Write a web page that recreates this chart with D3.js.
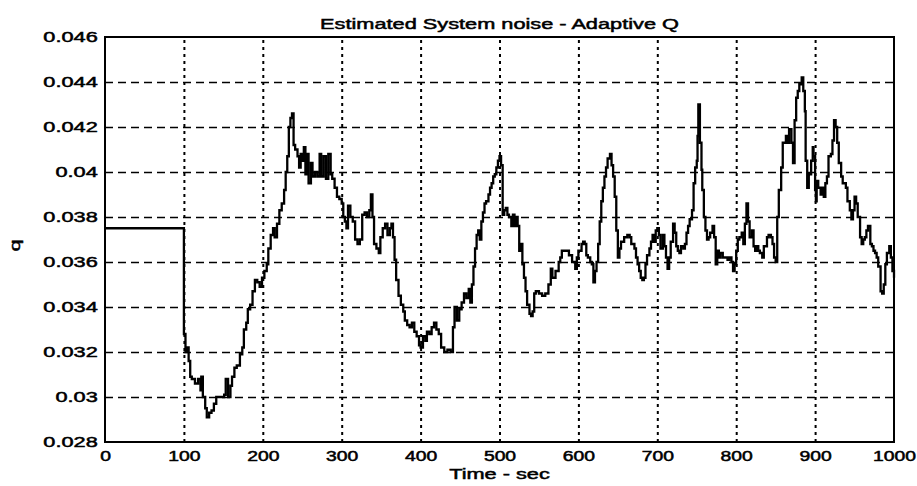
<!DOCTYPE html>
<html>
<head>
<meta charset="utf-8">
<script src="https://cdn.jsdelivr.net/npm/d3@7"></script>
<style>
  body { margin: 0; background: #fff; }
  svg { display: block; }
  text { font-family: "Liberation Sans", Arial, sans-serif; fill: #000; }
</style>
</head>
<body>
<svg id="chart" width="917" height="486"></svg>
<script>
// time (sec) and estimated q
const timeSec = [
  0, 100, 100, 102, 104, 106, 108, 110, 114, 118, 121, 122, 124, 127, 129, 132, 135, 138, 141, 146,
  151, 153, 156, 159, 161, 164, 167, 171, 174, 176, 179, 181, 184, 187, 190, 193, 196, 199, 202, 205,
  207, 210, 213, 215, 218, 221, 224, 227, 229, 231, 233, 235, 237, 239, 241, 244, 246, 248, 250, 252,
  254, 256, 258, 261, 263, 266, 269, 272, 274, 277, 280, 283, 286, 288, 291, 294, 297, 300, 302, 304,
  306, 308, 311, 314, 317, 320, 323, 326, 329, 332, 335, 337, 339, 341, 344, 347, 349, 352, 355, 358,
  361, 363, 365, 367, 369, 372, 375, 378, 380, 383, 386, 389, 392, 395, 398, 400, 403, 406, 408, 411,
  414, 417, 420, 423, 426, 430, 434, 438, 441, 443, 446, 449, 452, 455, 458, 461, 463, 465, 467, 469,
  471, 473, 475, 477, 479, 481, 483, 486, 488, 490, 492, 494, 496, 498, 500, 502, 504, 506, 508, 510,
  512, 515, 517, 519, 521, 523, 525, 527, 529, 531, 533, 535, 538, 540, 542, 544, 546, 550, 554, 558,
  562, 565, 567, 569, 571, 575, 577, 579, 583, 588, 592, 596, 598, 600, 604, 606, 608, 610, 612, 615,
  617, 619, 621, 623, 625, 627, 629, 631, 633, 635, 637, 640, 642, 644, 646, 648, 650, 652, 654, 658,
  662, 665, 667, 671, 673, 675, 677, 679, 681, 683, 685, 687, 690, 692, 694, 696, 698, 700, 702, 704,
  707, 709, 711, 713, 715, 717, 720, 722, 724, 726, 728, 730, 733, 735, 737, 739, 741, 744, 746, 748,
  750, 751, 752, 754, 756, 757, 759, 761, 763, 765, 767, 770, 772, 774, 776, 778, 780, 783, 785, 787,
  789, 791, 794, 796, 798, 800, 802, 804, 807, 809, 811, 813, 815, 817, 820, 822, 824, 826, 828, 830,
  833, 835, 837, 839, 841, 844, 846, 848, 850, 852, 854, 857, 859, 861, 863, 865, 867, 870, 872, 874,
  876, 878, 880, 883, 885, 887, 888, 890, 892, 895, 897, 898, 900, 901, 902, 904, 907, 909, 911, 913,
  915, 917, 920, 922, 924, 926, 928, 930, 933, 935, 937, 939, 941, 944, 946, 948, 950, 952, 954, 957,
  959, 961, 963, 965, 967, 970, 972, 974, 976, 978, 980, 983, 985, 987, 989, 991, 994, 996, 998, 1000
];
const qValues = [
  0.0375, 0.0375, 0.0328, 0.0320, 0.0322, 0.0316, 0.0309, 0.0308, 0.0306, 0.0308, 0.0303, 0.0309, 0.0300, 0.0295, 0.0291, 0.0293, 0.0294, 0.0297, 0.0300, 0.0300,
  0.0301, 0.0308, 0.0300, 0.0305, 0.0309, 0.0313, 0.0314, 0.0319, 0.0322, 0.0330, 0.0333, 0.0339, 0.0341, 0.0347, 0.0352, 0.0351, 0.0349, 0.0353, 0.0356, 0.0359,
  0.0366, 0.0372, 0.0375, 0.0371, 0.0377, 0.0383, 0.0386, 0.0392, 0.0400, 0.0407, 0.0420, 0.0424, 0.0426, 0.0412, 0.0410, 0.0407, 0.0402, 0.0408, 0.0405, 0.0411,
  0.0399, 0.0408, 0.0395, 0.0404, 0.0398, 0.0400, 0.0398, 0.0408, 0.0398, 0.0407, 0.0397, 0.0408, 0.0399, 0.0397, 0.0393, 0.0389, 0.0388, 0.0386, 0.0380, 0.0378,
  0.0375, 0.0385, 0.0380, 0.0378, 0.0370, 0.0368, 0.0370, 0.0381, 0.0382, 0.0380, 0.0383, 0.0390, 0.0380, 0.0368, 0.0366, 0.0364, 0.0371, 0.0375, 0.0377, 0.0372,
  0.0375, 0.0377, 0.0371, 0.0361, 0.0352, 0.0345, 0.0341, 0.0338, 0.0334, 0.0332, 0.0331, 0.0333, 0.0329, 0.0327, 0.0323, 0.0322, 0.0327, 0.0325, 0.0329, 0.0328,
  0.0331, 0.0333, 0.0330, 0.0328, 0.0322, 0.0320, 0.0321, 0.0320, 0.0331, 0.0340, 0.0334, 0.0339, 0.0342, 0.0346, 0.0344, 0.0348, 0.0342, 0.0350, 0.0358, 0.0366,
  0.0372, 0.0374, 0.0370, 0.0378, 0.0382, 0.0386, 0.0387, 0.0390, 0.0393, 0.0395, 0.0398, 0.0399, 0.0402, 0.0405, 0.0407, 0.0403, 0.0381, 0.0383, 0.0384, 0.0381,
  0.0380, 0.0376, 0.0381, 0.0376, 0.0380, 0.0376, 0.0365, 0.0368, 0.0359, 0.0353, 0.0347, 0.0341, 0.0337, 0.0336, 0.0338, 0.0346, 0.0347, 0.0346, 0.0345, 0.0346,
  0.0350, 0.0357, 0.0353, 0.0353, 0.0356, 0.0360, 0.0362, 0.0365, 0.0365, 0.0363, 0.0360, 0.0357, 0.0362, 0.0365, 0.0368, 0.0369, 0.0368, 0.0363, 0.0362, 0.0360,
  0.0359, 0.0351, 0.0356, 0.0360, 0.0368, 0.0378, 0.0387, 0.0393, 0.0398, 0.0402, 0.0406, 0.0408, 0.0403, 0.0398, 0.0389, 0.0374, 0.0362, 0.0366, 0.0369, 0.0371,
  0.0372, 0.0371, 0.0368, 0.0366, 0.0362, 0.0359, 0.0356, 0.0353, 0.0352, 0.0353, 0.0359, 0.0363, 0.0366, 0.0369, 0.0372, 0.0369, 0.0374, 0.0375, 0.0372, 0.0366,
  0.0372, 0.0367, 0.0362, 0.0357, 0.0362, 0.0369, 0.0377, 0.0373, 0.0367, 0.0365, 0.0364, 0.0367, 0.0366, 0.0368, 0.0373, 0.0376, 0.0379, 0.0383, 0.0395, 0.0402,
  0.0405, 0.0416, 0.0430, 0.0413, 0.0401, 0.0392, 0.0380, 0.0374, 0.0370, 0.0371, 0.0373, 0.0376, 0.0371, 0.0359, 0.0365, 0.0362, 0.0364, 0.0362, 0.0362, 0.0362,
  0.0361, 0.0362, 0.0360, 0.0356, 0.0359, 0.0365, 0.0370, 0.0371, 0.0373, 0.0368, 0.0377, 0.0386, 0.0378, 0.0371, 0.0374, 0.0367, 0.0365, 0.0367, 0.0365, 0.0364,
  0.0362, 0.0367, 0.0367, 0.0371, 0.0372, 0.0371, 0.0368, 0.0362, 0.0360, 0.0380, 0.0392, 0.0402, 0.0413, 0.0413, 0.0416, 0.0413, 0.0419, 0.0413, 0.0404, 0.0423,
  0.0433, 0.0436, 0.0439, 0.0442, 0.0436, 0.0427, 0.0405, 0.0393, 0.0399, 0.0405, 0.0411, 0.0407, 0.0392, 0.0387, 0.0396, 0.0393, 0.0390, 0.0393, 0.0389, 0.0395,
  0.0398, 0.0407, 0.0408, 0.0414, 0.0423, 0.0420, 0.0413, 0.0404, 0.0398, 0.0395, 0.0395, 0.0393, 0.0387, 0.0383, 0.0379, 0.0383, 0.0389, 0.0386, 0.0380, 0.0371,
  0.0368, 0.0370, 0.0371, 0.0374, 0.0376, 0.0368, 0.0367, 0.0365, 0.0364, 0.0362, 0.0358, 0.0347, 0.0346, 0.0350, 0.0359, 0.0364, 0.0367, 0.0362, 0.0356, 0.0353
];
const xTicks = [0, 100, 200, 300, 400, 500, 600, 700, 800, 900, 1000];
const yTicks = [0.028, 0.030, 0.032, 0.034, 0.036, 0.038, 0.040, 0.042, 0.044, 0.046];
const yTickLabels = ["0.028", "0.03", "0.032", "0.034", "0.036", "0.038", "0.04", "0.042", "0.044", "0.046"];

const plot = { left: 105, right: 894, top: 37, bottom: 442 };
const stretch = 1.45; // scanned text is wide
const fontSize = 14;

const svg = d3.select("#chart");
svg.append("rect").attr("width", 917).attr("height", 486).attr("fill", "#fff");

const x = d3.scaleLinear().domain([0, 1000]).range([plot.left, plot.right]);
const y = d3.scaleLinear().domain([0.028, 0.046]).range([plot.bottom, plot.top]);

// grid
svg.append("g")
  .attr("transform", `translate(0,${plot.bottom})`)
  .call(d3.axisBottom(x).tickValues(xTicks.slice(1, -1)).tickSize(-(plot.bottom - plot.top)).tickFormat(""))
  .call(g => g.select(".domain").remove())
  .selectAll("line")
  .attr("stroke", "#000").attr("stroke-width", 2).attr("stroke-dasharray", "3,4");

svg.append("g")
  .attr("transform", `translate(${plot.left},0)`)
  .call(d3.axisLeft(y).tickValues(yTicks.slice(1, -1)).tickSize(-(plot.right - plot.left)).tickFormat(""))
  .call(g => g.select(".domain").remove())
  .selectAll("line")
  .attr("stroke", "#000").attr("stroke-width", 1.6).attr("stroke-dasharray", "8,5");

// tick labels
const xAxis = svg.append("g")
  .attr("transform", `translate(0,${plot.bottom})`)
  .call(d3.axisBottom(x).tickValues(xTicks).tickSize(0).tickPadding(9).tickFormat(d3.format("d")));
xAxis.select(".domain").remove();
xAxis.selectAll("text")
  .attr("font-size", fontSize).attr("font-family", "Liberation Sans, Arial, sans-serif")
  .attr("stroke", "#000").attr("stroke-width", 0.5)
  .attr("transform", "scale(1.38,1)");

const yAxis = svg.append("g")
  .attr("transform", `translate(${plot.left},0)`)
  .call(d3.axisLeft(y).tickValues(yTicks).tickSize(0).tickPadding(5).tickFormat((d, i) => yTickLabels[i]));
yAxis.select(".domain").remove();
yAxis.selectAll("text")
  .attr("font-size", fontSize + 1).attr("font-family", "Liberation Sans, Arial, sans-serif")
  .attr("stroke", "#000").attr("stroke-width", 0.5)
  .attr("transform", `scale(${stretch},1)`);

// box
svg.append("rect")
  .attr("x", plot.left).attr("y", plot.top)
  .attr("width", plot.right - plot.left).attr("height", plot.bottom - plot.top)
  .attr("fill", "none").attr("stroke", "#000").attr("stroke-width", 2);

// line
const line = d3.line()
  .x((d, i) => x(timeSec[i]))
  .y(d => y(d))
  .curve(d3.curveStepAfter);

svg.append("path")
  .datum(qValues)
  .attr("d", line)
  .attr("fill", "none")
  .attr("stroke", "#000")
  .attr("stroke-width", 2.3);

// titles
svg.append("text")
  .attr("transform", `translate(${(plot.left + plot.right) / 2},29) scale(${stretch},1)`)
  .attr("text-anchor", "middle").attr("font-size", 15)
  .attr("stroke", "#000").attr("stroke-width", 0.5)
  .text("Estimated System noise - Adaptive Q");

svg.append("text")
  .attr("transform", `translate(${(plot.left + plot.right) / 2},479) scale(${stretch},1)`)
  .attr("text-anchor", "middle").attr("font-size", 15)
  .attr("stroke", "#000").attr("stroke-width", 0.5)
  .text("Time - sec");

svg.append("text")
  .attr("transform", `translate(20,${(plot.top + plot.bottom) / 2 + 6}) rotate(-90) scale(${stretch},1)`)
  .attr("text-anchor", "middle").attr("font-size", 15)
  .attr("stroke", "#000").attr("stroke-width", 0.5)
  .text("q");
</script>
</body>
</html>
